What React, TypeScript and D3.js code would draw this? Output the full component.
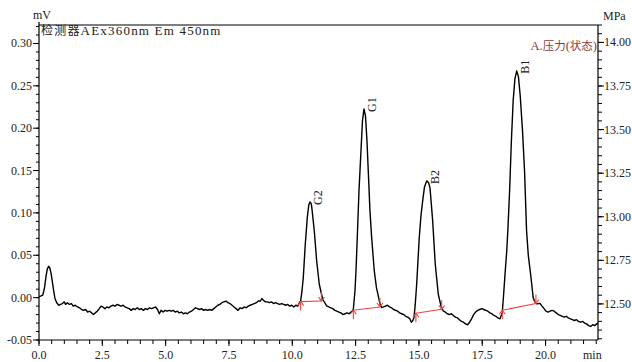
import React from "react";
import * as d3 from "d3";

// Chromatogram trace (time in min, signal in mV)
const traceT = [
  0.0, 0.08, 0.15, 0.22, 0.28, 0.33, 0.38, 0.43, 0.48, 0.53, 0.58, 0.63, 0.7, 0.78, 0.85, 0.92, 1.0, 1.05, 1.12, 1.2,
  1.28, 1.35, 1.43, 1.52, 1.6, 1.68, 1.76, 1.84, 1.92, 2.0, 2.08, 2.15, 2.22, 2.3, 2.38, 2.45, 2.52, 2.6, 2.68, 2.76,
  2.84, 2.92, 3.0, 3.08, 3.16, 3.24, 3.32, 3.4, 3.48, 3.56, 3.64, 3.72, 3.8, 3.88, 3.96, 4.04, 4.12, 4.2, 4.28, 4.36,
  4.44, 4.52, 4.6, 4.68, 4.75, 4.82, 4.9, 4.98, 5.06, 5.14, 5.22, 5.3, 5.38, 5.46, 5.54, 5.62, 5.7, 5.78, 5.86, 5.94,
  6.02, 6.1, 6.18, 6.26, 6.34, 6.42, 6.5, 6.58, 6.66, 6.74, 6.82, 6.9, 6.98, 7.06, 7.14, 7.22, 7.3, 7.38, 7.46, 7.54,
  7.62, 7.7, 7.78, 7.86, 7.94, 8.02, 8.1, 8.18, 8.26, 8.34, 8.42, 8.5, 8.58, 8.66, 8.74, 8.8, 8.86, 8.94, 9.02, 9.1,
  9.18, 9.26, 9.34, 9.42, 9.5, 9.58, 9.66, 9.74, 9.82, 9.9, 9.98, 10.06, 10.14, 10.22, 10.28,
  // G2
  10.331, 10.383, 10.434, 10.513, 10.592, 10.651, 10.699, 10.75, 10.778, 10.869, 10.963, 11.066, 11.2, 11.358,
  11.44, 11.52, 11.6, 11.68, 11.76, 11.84, 11.92, 12.0, 12.08, 12.16, 12.24, 12.32, 12.37,
  // G1
  12.41, 12.475, 12.515, 12.566, 12.633, 12.712, 12.771, 12.831, 12.89, 12.949, 13.0, 13.067, 13.134, 13.237, 13.324,
  13.395, 13.462, 13.529,
  13.6, 13.68, 13.76, 13.84, 13.92, 14.0, 14.08, 14.16, 14.24, 14.32, 14.4, 14.48, 14.56, 14.64, 14.7, 14.76,
  // B2
  14.803, 14.85, 14.911, 15.013, 15.08, 15.148, 15.219, 15.306, 15.377, 15.436, 15.543, 15.645, 15.764, 15.87, 15.961,
  16.04, 16.12, 16.2, 16.28, 16.36, 16.44, 16.52, 16.6, 16.68, 16.76, 16.84, 16.92, 17.0, 17.08, 17.16, 17.24, 17.32,
  17.4, 17.48, 17.56, 17.64, 17.72, 17.8, 17.88, 17.96, 18.04, 18.12, 18.2,
  // B1
  18.29, 18.34, 18.4, 18.467, 18.51, 18.58, 18.65, 18.72, 18.79, 18.86, 18.93, 19.0, 19.09, 19.17, 19.25, 19.32,
  19.41, 19.51, 19.6, 19.66, 19.78,
  19.86, 19.94, 20.02, 20.1, 20.18, 20.26, 20.34, 20.42, 20.5, 20.58, 20.66, 20.74, 20.82, 20.9, 20.98, 21.06, 21.14,
  21.22, 21.3, 21.38, 21.46, 21.54, 21.62, 21.7, 21.78, 21.86, 21.94, 22.02, 22.07,
];
const traceV = [
  0.001, 0.002, 0.003, 0.012, 0.026, 0.034, 0.037, 0.035, 0.028, 0.018, 0.008, -0.001, -0.006, -0.009, -0.008, -0.007,
  -0.005, -0.008, -0.006, -0.008, -0.007, -0.01, -0.009, -0.011, -0.012, -0.014, -0.015, -0.014, -0.017, -0.016,
  -0.018, -0.02, -0.018, -0.016, -0.013, -0.01, -0.011, -0.013, -0.011, -0.012, -0.01, -0.009, -0.01, -0.008, -0.009,
  -0.01, -0.009, -0.011, -0.012, -0.013, -0.015, -0.013, -0.014, -0.012, -0.014, -0.013, -0.015, -0.013, -0.014,
  -0.012, -0.013, -0.012, -0.011, -0.014, -0.019, -0.015, -0.017, -0.015, -0.016, -0.015, -0.016, -0.015, -0.017,
  -0.016, -0.018, -0.017, -0.019, -0.018, -0.019, -0.017, -0.016, -0.014, -0.012, -0.013, -0.014, -0.013, -0.015,
  -0.014, -0.015, -0.014, -0.015, -0.013, -0.011, -0.009, -0.008, -0.006, -0.005, -0.004, -0.006, -0.007, -0.009,
  -0.011, -0.013, -0.015, -0.012, -0.013, -0.011, -0.012, -0.01, -0.009, -0.008, -0.007, -0.006, -0.004, -0.004,
  -0.001, -0.003, -0.005, -0.005, -0.006, -0.005, -0.007, -0.006, -0.007, -0.008, -0.007, -0.008, -0.009, -0.008,
  -0.01, -0.009, -0.011, -0.009, -0.01, -0.006,
  // G2
  -0.0039, 0.0079, 0.0236, 0.063, 0.0945, 0.1094, 0.113, 0.1106, 0.1044, 0.0787, 0.0433, 0.0158, -0.0019, -0.0098,
  -0.011, -0.012, -0.013, -0.015, -0.016, -0.017, -0.018, -0.02, -0.019, -0.018, -0.019, -0.017, -0.016,
  // G1
  -0.0137, 0.0079, 0.0315, 0.0708, 0.126, 0.1732, 0.2086, 0.2228, 0.2145, 0.185, 0.1496, 0.1024, 0.0708, 0.0315,
  0.0115, 0.002, -0.0074, -0.0118,
  -0.011, -0.01, -0.009, -0.011, -0.012, -0.014, -0.015, -0.016, -0.018, -0.019, -0.02, -0.022, -0.023, -0.025,
  -0.029, -0.027,
  // B2
  -0.0236, -0.0098, 0.0158, 0.0708, 0.0965, 0.1142, 0.1307, 0.1378, 0.136, 0.1299, 0.0906, 0.0394, 0.004, -0.0098,
  -0.0157,
  -0.017, -0.019, -0.02, -0.019, -0.021, -0.023, -0.024, -0.026, -0.028, -0.029, -0.031, -0.032, -0.029, -0.025,
  -0.02, -0.017, -0.015, -0.014, -0.013, -0.014, -0.015, -0.016, -0.018, -0.019, -0.021, -0.022, -0.024, -0.025,
  // B1
  -0.0177, 0.002, 0.028, 0.0551, 0.0788, 0.126, 0.185, 0.2322, 0.2582, 0.2677, 0.2606, 0.238, 0.1968, 0.1496, 0.0788,
  0.0492, 0.0276, 0.0, -0.0063, -0.0074, -0.0068,
  -0.01, -0.013, -0.016, -0.017, -0.016, -0.015, -0.016, -0.018, -0.02, -0.021, -0.022, -0.023, -0.022, -0.024,
  -0.025, -0.026, -0.027, -0.026, -0.028, -0.029, -0.028, -0.03, -0.031, -0.033, -0.034, -0.032, -0.033, -0.031,
  -0.03,
];

// Peak labels
const peakNames = ["G2", "G1", "B2", "B1"];
const peakT = [10.699, 12.831, 15.306, 18.86];
const peakV = [0.113, 0.2228, 0.1378, 0.2677];

// Integration baselines
const intStartT = [10.33, 12.41, 14.88, 18.29];
const intStartV = [-0.0047, -0.0149, -0.0184, -0.0149];
const intEndT = [11.15, 13.46, 15.9, 19.62];
const intEndV = [-0.004, -0.011, -0.0137, -0.007];

// Axes
const xTicks = [0, 2.5, 5, 7.5, 10, 12.5, 15, 17.5, 20];
const yTicks = [-0.05, 0, 0.05, 0.1, 0.15, 0.2, 0.25, 0.3];
const rTicks = [12.5, 12.75, 13.0, 13.25, 13.5, 13.75, 14.0];

const W = 632;
const H = 362;
const L = 39, R = 598, T = 25, B = 340;

export default function App() {
  const x = d3.scaleLinear().domain([0, 22.07]).range([L, R]);
  const y = d3.scaleLinear().domain([-0.05, 0.3218]).range([B, T]);
  const yr = d3.scaleLinear().domain([12.293, 14.1]).range([B, T]);

  const pts: [number, number][] = traceT.map((t, i) => [t, traceV[i]]);
  const line = d3
    .line<[number, number]>()
    .x((d) => x(d[0]))
    .y((d) => y(d[1]));

  const xMinor = d3.range(0, 22.01, 0.5);
  const yMinor = d3.range(-0.05, 0.3201, 0.01);
  const rMinor = d3.range(12.3, 14.101, 0.05);

  const font = "'Liberation Serif', 'Times New Roman', serif";
  const red = "#f2403c";

  return (
    <svg
      width={W}
      height={H}
      style={{ position: "fixed", left: 0, top: 0, background: "#fff" }}
      fontFamily={font}
    >
      <rect x={0} y={0} width={W} height={H} fill="#fff" />
      {/* frame */}
      <line x1={L} x2={R} y1={T} y2={T} stroke="#000" strokeWidth={1.2} />
      <line x1={L} x2={L} y1={T - 3} y2={B} stroke="#000" strokeWidth={1.2} />
      <line x1={R} x2={R} y1={T} y2={B} stroke="#000" strokeWidth={1.2} />
      <line x1={L} x2={R} y1={B} y2={B} stroke="#000" strokeWidth={1.2} />

      {/* left axis */}
      {yMinor.map((v, i) => (
        <line key={"ym" + i} x1={L - 3} x2={L} y1={y(v)} y2={y(v)} stroke="#000" strokeWidth={1} />
      ))}
      {yTicks.map((v) => (
        <g key={"y" + v}>
          <line x1={L - 6} x2={L} y1={y(v)} y2={y(v)} stroke="#000" strokeWidth={1} />
          <text x={L - 7} y={y(v) + 4} textAnchor="end" fontSize={12} fill="#222">
            {v.toFixed(2)}
          </text>
        </g>
      ))}
      <text x={33} y={19} fontSize={12} fill="#222">mV</text>

      {/* right axis */}
      {rMinor.map((v, i) => (
        <line key={"rm" + i} x1={R} x2={R + 4} y1={yr(v)} y2={yr(v)} stroke="#000" strokeWidth={1} />
      ))}
      {rTicks.map((v) => (
        <g key={"r" + v}>
          <line x1={R} x2={R + 6} y1={yr(v)} y2={yr(v)} stroke="#000" strokeWidth={1} />
          <text x={R + 6} y={yr(v) + 4} fontSize={12} fill="#222">
            {v.toFixed(2)}
          </text>
        </g>
      ))}
      <text x={603} y={20} fontSize={12} fill="#222">MPa</text>

      {/* bottom axis */}
      {xMinor.map((v, i) => (
        <line key={"xm" + i} x1={x(v)} x2={x(v)} y1={B} y2={B + 4} stroke="#000" strokeWidth={1} />
      ))}
      {xTicks.map((v) => (
        <g key={"x" + v}>
          <line x1={x(v)} x2={x(v)} y1={B} y2={B + 6} stroke="#000" strokeWidth={1} />
          <text x={x(v)} y={359} textAnchor="middle" fontSize={12} fill="#222">
            {v.toFixed(1)}
          </text>
        </g>
      ))}
      <text x={583} y={359} fontSize={12} fill="#222">min</text>

      {/* titles */}
      <text x={41} y={35} fontSize={13} fill="#222" letterSpacing={1.2}>
        <tspan fontFamily="'Noto Sans CJK SC', sans-serif" fontSize={12}>检测器</tspan>
        <tspan>AEx360nm Em 450nm</tspan>
      </text>
      <text x={R - 1} y={50} textAnchor="end" fontSize={12.5} fill="#8c3a3a">
        <tspan>A.</tspan>
        <tspan fontFamily="'Noto Sans CJK SC', sans-serif" fontSize={11.5}>压力</tspan>
        <tspan>(</tspan>
        <tspan fontFamily="'Noto Sans CJK SC', sans-serif" fontSize={11.5}>状态</tspan>
        <tspan>)</tspan>
      </text>

      {/* trace */}
      <path d={line(pts) || ""} fill="none" stroke="#000" strokeWidth={1.4} strokeLinejoin="round" />

      {/* integration baselines */}
      {intStartT.map((t, i) => {
        const x1 = x(t), y1 = y(intStartV[i]);
        const x2 = x(intEndT[i]), y2 = y(intEndV[i]);
        return (
          <g key={"int" + i} stroke={red} strokeWidth={1.1} fill="none">
            <line x1={x1} y1={y1} x2={x2} y2={y2} />
            <line x1={x1} y1={y1} x2={x1} y2={y1 + 9} />
            <polyline points={`${x1 - 3},${y1 + 4} ${x1},${y1} ${x1 + 3},${y1 + 4}`} />
            <line x1={x2} y1={y2 - 9} x2={x2} y2={y2} />
            <polyline points={`${x2 - 3},${y2 - 4} ${x2},${y2} ${x2 + 3},${y2 - 4}`} />
          </g>
        );
      })}

      {/* peak labels */}
      {peakNames.map((n, i) => {
        const px = x(peakT[i]) + 12;
        const py = y(peakV[i]) + 3;
        return (
          <text key={n} transform={`translate(${px},${py}) rotate(-90)`} fontSize={12} fill="#222">
            {n}
          </text>
        );
      })}
    </svg>
  );
}
